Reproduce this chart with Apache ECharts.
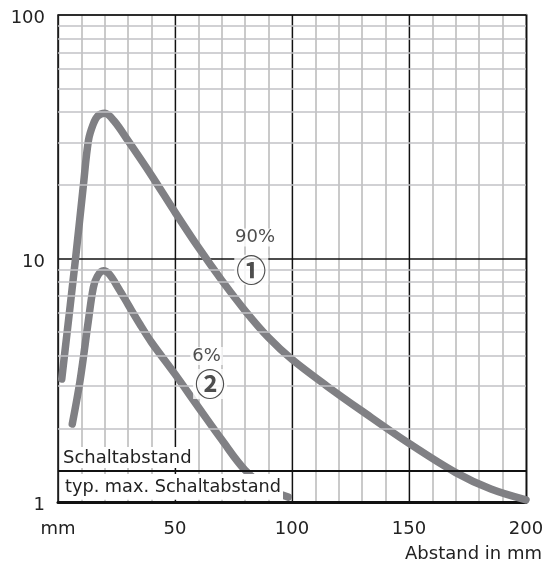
<!DOCTYPE html>
<html>
<head>
<meta charset="utf-8">
<script src="https://cdn.jsdelivr.net/npm/echarts@6/dist/echarts.min.js"></script>
<style>html,body{margin:0;padding:0;background:#fff}#c{width:547px;height:563px}</style>
</head>
<body>
<div id="c"></div>
<script>
// Curve 1 (90 %)
const dist1 = [1.6, 7.5, 10.8, 13, 15, 17, 20, 24, 30, 40, 50, 60, 70, 80, 90, 100, 115, 130, 150, 170, 185, 200];
const val1  = [3.2, 10, 19.8, 30.5, 35.5, 38.5, 39.5, 36.7, 30.4, 21.9, 15.5, 11.1, 8.13, 6.1, 4.73, 3.85, 2.99, 2.36, 1.74, 1.32, 1.13, 1.02];
// Curve 2 (6 %)
const dist2 = [6.1, 9.4, 12.95, 15.1, 16.8, 19.4, 22, 26, 30, 35, 40, 50, 60, 70, 80, 90, 98.4];
const val2  = [2.09, 3.14, 5.53, 7.6, 8.45, 8.9, 8.61, 7.5, 6.46, 5.37, 4.52, 3.35, 2.45, 1.8, 1.35, 1.135, 1.047];
// Threshold and grid values
const schaltabstand = 1.336;
const minorY = [2,3,4,5,6,7,8,9,20,30,40,50,60,70,80,90];
// Annotation texts and anchors
const annoText = ['90%', '①', '6%', '②'];
const annoX = [84.2, 82.6, 63.5, 65];
const annoY = [12.2, 9.0, 3.98, 3.05];
const annoSize = [18, 30, 18, 30];

const FONT = 'DejaVu Sans, Noto Sans CJK JP, sans-serif';
const CIRCLE_FONT = 'Noto Sans CJK JP, DejaVu Sans, sans-serif';
const CURVE = '#808084';

const pair = (xs, ys) => xs.map((x, i) => [x, ys[i]]);

const chart = echarts.init(document.getElementById('c'), null, {renderer: 'canvas'});
chart.setOption({
  animation: false,
  backgroundColor: '#fff',
  grid: {left: 58, right: 21, top: 15, bottom: 60, containLabel: false},
  xAxis: [
    {
      type: 'value', min: 0, max: 200, interval: 10, position: 'top',
      axisLine: {show: true, onZero: false, lineStyle: {color: '#5a5a5a', width: 1.6}},
      axisTick: {show: false}, axisLabel: {show: false},
      splitLine: {show: true, lineStyle: {color: '#b8b8b8', width: 1.5}},
      z: 0
    },
    {
      type: 'value', min: 0, max: 200, interval: 50, position: 'bottom',
      axisLine: {show: true, onZero: false, lineStyle: {color: '#111', width: 3}},
      axisTick: {show: false},
      axisLabel: {
        show: true, margin: 18, color: '#222', fontSize: 18, fontFamily: FONT,
        formatter: v => v === 0 ? 'mm' : String(v)
      },
      splitLine: {show: true, lineStyle: {color: '#111', width: 1.3}},
      name: 'Abstand in mm', nameLocation: 'end', nameGap: 16,
      nameTextStyle: {color: '#222', fontSize: 18, fontFamily: FONT, align: 'right', verticalAlign: 'top', padding: [43, 0, 0, 0]},
      z: 2
    }
  ],
  yAxis: [
    {
      type: 'log', logBase: 10, min: 1, max: 100,
      axisLine: {show: true, onZero: false, lineStyle: {color: '#222', width: 1.5}},
      axisTick: {show: false},
      axisLabel: {
        show: true, margin: 13, color: '#222', fontSize: 18, fontFamily: FONT,
        formatter: v => '{a|' + v + '}',
        rich: {a: {color: '#222', fontSize: 18, fontFamily: FONT, padding: [7, 0, 0, 0]}}
      },
      splitLine: {show: true, lineStyle: {color: '#111', width: 1.5}},
      z: 2
    },
    {
      type: 'log', logBase: 10, min: 1, max: 100, position: 'right',
      axisLine: {show: true, onZero: false, lineStyle: {color: '#888', width: 2.5}},
      axisTick: {show: false}, axisLabel: {show: false}, splitLine: {show: false}
    }
  ],
  series: [
    {
      name: 'minor', type: 'line', data: [], xAxisIndex: 1, yAxisIndex: 0, z: 1, silent: true,
      markLine: {
        silent: true, symbol: 'none', animation: false,
        label: {show: false},
        lineStyle: {color: '#c2c2c6', width: 1.7, type: 'solid'},
        data: minorY.map(v => ({yAxis: v}))
      }
    },
    {
      name: '90%', type: 'line', xAxisIndex: 1, yAxisIndex: 0, z: 3,
      data: pair(dist1, val1), smooth: 0.35, showSymbol: false, symbol: 'none',
      lineStyle: {color: CURVE, width: 7.5, cap: 'round', join: 'round'}
    },
    {
      name: '6%', type: 'line', xAxisIndex: 1, yAxisIndex: 0, z: 3,
      data: pair(dist2, val2), smooth: 0.35, showSymbol: false, symbol: 'none',
      lineStyle: {color: CURVE, width: 7.5, cap: 'round', join: 'round'}
    },
    {
      name: 'threshold', type: 'line', data: [], xAxisIndex: 1, yAxisIndex: 0, z: 5, silent: true,
      markLine: {
        silent: true, symbol: 'none', animation: false,
        lineStyle: {color: '#111', width: 2.2, type: 'solid'},
        data: [
          {yAxis: schaltabstand, label: {show: true, position: 'insideStartTop', formatter: 'Schaltabstand', distance: [2, 3],
            color: '#222', fontSize: 18, fontFamily: FONT, backgroundColor: '#fff', padding: [2, 3, 1, 3]}},
          {yAxis: schaltabstand, label: {show: true, position: 'insideStartBottom', formatter: 'typ. max. Schaltabstand', distance: [2, 3],
            color: '#222', fontSize: 17.7, fontFamily: FONT, backgroundColor: '#fff', padding: [5, 2, 3, 5]}}
        ]
      }
    },
    {
      name: 'anno', type: 'scatter', xAxisIndex: 1, yAxisIndex: 0, z: 6, silent: true,
      symbolSize: 0,
      data: annoX.map((x, i) => ({
        value: [x, annoY[i]],
        label: {show: true, position: 'inside', formatter: annoText[i], fontSize: annoSize[i],
          fontWeight: i % 2 ? 'bold' : 'normal',
          color: '#222', fontFamily: i % 2 ? CIRCLE_FONT : FONT, backgroundColor: '#fff', padding: [0, 2]}
      }))
    }
  ]
});
</script>
</body>
</html>
